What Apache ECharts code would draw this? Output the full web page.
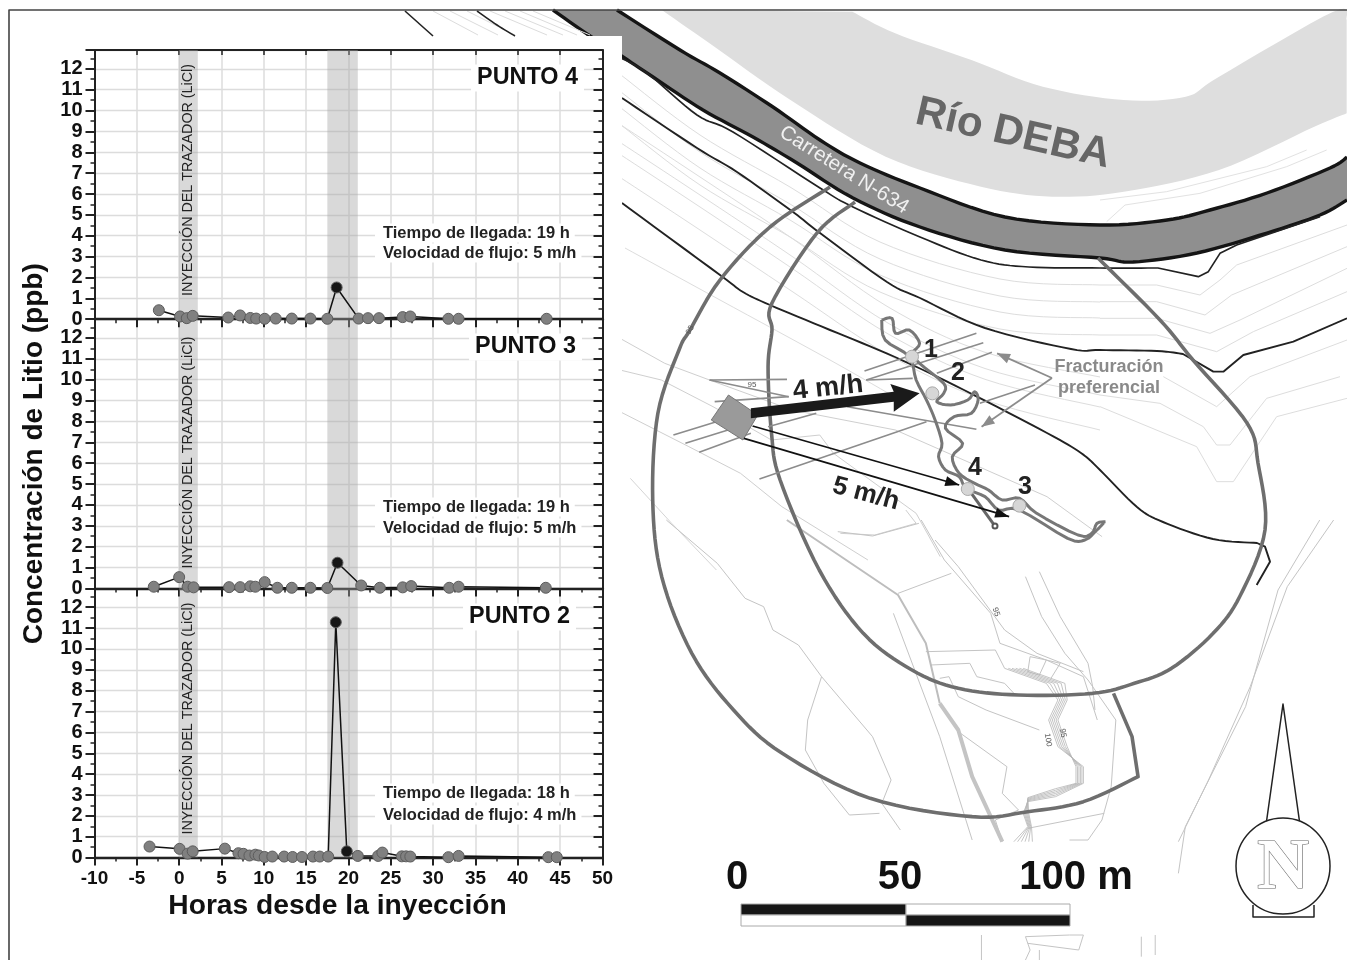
<!DOCTYPE html>
<html><head><meta charset="utf-8">
<style>html,body{margin:0;padding:0;background:#fff}#c{width:1347px;height:960px}</style>
<script src="https://cdn.jsdelivr.net/npm/echarts@6/dist/echarts.min.js"></script>
</head><body><div id="c"></div>
<script>
// ---------- chart values ----------
const hoursP4 = [-2.4,0.1,0.9,1.6,5.8,7.2,8.4,9.1,10.1,11.4,13.3,15.5,17.5,18.6,21.2,22.3,23.6,26.4,27.3,31.8,33,43.4];
const litioP4 = [0.43,0.13,0.05,0.16,0.08,0.18,0.06,0.03,0.02,0.03,0.03,0.03,0.02,1.52,0.03,0.05,0.05,0.1,0.13,0.02,0.02,0.02];
const hoursP3 = [-3,0,1,1.7,5.9,7.2,8.4,9,10.1,11.6,13.3,15.5,17.5,18.7,21.5,23.7,26.4,27.4,31.9,33,43.3];
const litioP3 = [0.08,0.54,0.08,0.05,0.06,0.06,0.1,0.08,0.3,0.03,0.03,0.03,0.02,1.23,0.14,0.03,0.05,0.11,0.03,0.08,0.03];
const hoursP2 = [-3.5,0.05,1,1.6,5.4,7,7.6,8.3,9,9.4,10.1,11,12.4,13.4,14.5,15.8,16.6,17.6,18.5,19.8,21.1,23.5,24,26.3,26.8,27.3,31.8,33,43.6,44.6];
const litioP2 = [0.53,0.42,0.19,0.3,0.43,0.21,0.18,0.1,0.14,0.1,0.03,0.05,0.05,0.03,0.03,0.05,0.05,0.05,11.28,0.3,0.08,0.08,0.24,0.06,0.06,0.05,0.02,0.08,0.02,0.02];
const peakHours = [18.6,18.7,18.5,19.8];
const bandInjection = [0,2.2];
const bandArrival = [17.5,21.1];
const xTickMin = -10, xTickMax = 50, xTickStep = 5;
const yTickMax = 12.9;
const panelNames = ['PUNTO 4','PUNTO 3','PUNTO 2'];
const arrivalText = ['Tiempo de llegada: 19 h','Tiempo de llegada: 19 h','Tiempo de llegada: 18 h'];
const flowText = ['Velocidad de flujo: 5 m/h','Velocidad de flujo: 5 m/h','Velocidad de flujo: 4 m/h'];
const injectionText = 'INYECCIÓN DEL TRAZADOR (LiCl)';
const xTitle = 'Horas desde la inyección';
const yTitle = 'Concentración de Litio (ppb)';

// ---------- layout ----------
const FONT = '"Liberation Sans", Arial, sans-serif';
const GL = 94.5, GW = 508, GT = 50, GH = 269.2;
const series3 = [[hoursP4,litioP4],[hoursP3,litioP3],[hoursP2,litioP2]];
const grid=[],xAxis=[],yAxis=[],series=[];
series3.forEach((s,i)=>{
  grid.push({left:GL,top:GT+i*GH,width:GW,height:GH,containLabel:false});
  const lastPanel = i===2;
  xAxis.push({type:'value',gridIndex:i,min:xTickMin,max:xTickMax,interval:xTickStep,
    axisLine:{onZero:false,lineStyle:{color:'#222',width:2.4}},
    axisTick:{show:true,inside:false,length:8,lineStyle:{color:'#222',width:2}},
    minorTick:{show:true,splitNumber:2,length:4,lineStyle:{color:'#222',width:1.5}},
    splitLine:{show:true,lineStyle:{color:'#dcdcdc',width:1.5}},minorSplitLine:{show:false},
    axisLabel:{show:lastPanel,color:'#111',fontFamily:FONT,fontWeight:'bold',fontSize:19,margin:12}});
  xAxis.push({type:'value',gridIndex:i,position:'top',min:xTickMin,max:xTickMax,interval:xTickStep,
    axisLine:{onZero:false,lineStyle:{color:'#222',width:2}},
    axisTick:{show:true,inside:true,length:5,lineStyle:{color:'#222',width:1.5}},
    axisLabel:{show:false},splitLine:{show:false}});
  yAxis.push({type:'value',gridIndex:i,min:0,max:yTickMax,interval:1,
    axisLine:{onZero:false,show:true,lineStyle:{color:'#222',width:2}},
    axisTick:{show:true,inside:false,length:9,lineStyle:{color:'#222',width:2}},
    minorTick:{show:true,splitNumber:2,length:4,lineStyle:{color:'#222',width:1.5}},
    splitLine:{show:true,lineStyle:{color:'#dcdcdc',width:1.3}},
    axisLabel:{color:'#111',fontFamily:FONT,fontWeight:'bold',fontSize:20,margin:12,
      formatter:v=>Number.isInteger(v)?String(v):''},
    name:i===1?yTitle:'',nameLocation:'middle',nameGap:46,
    nameTextStyle:{color:'#111',fontFamily:FONT,fontWeight:'bold',fontSize:28}});
  yAxis.push({type:'value',gridIndex:i,position:'right',min:0,max:yTickMax,interval:1,
    axisLine:{onZero:false,show:true,lineStyle:{color:'#222',width:2}},
    axisTick:{show:true,inside:true,length:9,lineStyle:{color:'#222',width:2}},
    minorTick:{show:true,splitNumber:2,length:4,lineStyle:{color:'#222',width:1.5}},
    axisLabel:{show:false},splitLine:{show:false}});
  series.push({type:'line',xAxisIndex:i*2,yAxisIndex:i*2,clip:false,silent:true,
    data:s[0].map((h,k)=>[h,s[1][k]]),
    symbol:'circle',symbolSize:11,showAllSymbol:true,z:4,
    lineStyle:{color:'#111',width:1.5},
    itemStyle:{color:p=>peakHours.includes(p.value[0])?'#161616':'#808080',borderColor:'#5c5c5c',borderWidth:1},
    markArea:{silent:true,z:1,itemStyle:{color:'rgba(165,165,165,0.42)'},
      data:[[{xAxis:bandInjection[0]},{xAxis:bandInjection[1]}],[{xAxis:bandArrival[0]},{xAxis:bandArrival[1]}]]}});
});

// ---------- map backdrop (decoration, picture space) ----------
const z4=a=>a.map(p=>[620+p[0]/2.904,300+p[1]/3]);
const z7=a=>a.map(p=>[600+p[0]/2.1,p[1]/3]);
const z8=a=>a.map(p=>[620+p[0]/2.158,520+p[1]/3]);
const zR=a=>a.map(p=>[1100+p[0]/3,150+p[1]/3]);
const cr=(a,n)=>{n=n||8;const o=[];for(let i=0;i<a.length-1;i++){const p0=a[Math.max(i-1,0)],p1=a[i],p2=a[i+1],p3=a[Math.min(i+2,a.length-1)];
  for(let k=0;k<n;k++){const t=k/n,t2=t*t,t3=t2*t;o.push([0,1].map(j=>0.5*(2*p1[j]+(p2[j]-p0[j])*t+(2*p0[j]-5*p1[j]+4*p2[j]-p3[j])*t2+(3*p1[j]-p0[j]-3*p2[j]+p3[j])*t3)));}}
  o.push(a[a.length-1]);return o;};
const g=[];
const D=-1;
const line=(pts,c,w)=>g.push({type:'polyline',z:D,shape:{points:pts},style:{stroke:c,lineWidth:w,fill:null,lineJoin:'round'},silent:true});
const poly=(pts,f,s,w)=>g.push({type:'polygon',z:D,shape:{points:pts},style:{fill:f,stroke:s||null,lineWidth:w||0},silent:true});
const txt=(t,x,y,font,fill,rotDeg,extra)=>g.push({type:'text',z:(extra&&extra.z)||D,x,y,rotation:(rotDeg||0)*Math.PI/180,silent:true,
  style:Object.assign({text:t,font,fill,align:'center',verticalAlign:'middle'},extra&&extra.style||{})});
const arrowHead=(from,to,len,wid,c)=>{const dx=to[0]-from[0],dy=to[1]-from[1],L=Math.hypot(dx,dy),ux=dx/L,uy=dy/L;
  const bx=to[0]-ux*len,by=to[1]-uy*len;poly([to,[bx-uy*wid,by+ux*wid],[bx+uy*wid,by-ux*wid]],c);};

const roadUp=cr([[617,10],[680,50],[720,73],[773,107],[820,140],[860,163],[920,188],[1005,217],[1100,225],[1167,220],[1210,210],[1267,193],[1330,168],[1347,157]]);
const roadLow=cr([[553,10],[590,36],[620,55],[653,77],[703,110],[753,137],[797,163],[853,198],[920,227],[1005,250],[1100,258],[1133,262],[1197,253],[1267,233],[1320,215],[1347,200]]);
const riverLow=cr(z7([[130,30],[230,130],[400,300],[600,470],[800,560],[950,590],[1100,575],[1300,510],[1500,380],[1568,340]]));
const riverUp=cr(z7([[1568,60],[1540,35],[1300,230],[1230,290],[1100,300],[930,260],[780,180],[620,100],[530,35]]));

poly(riverLow.concat(riverUp),'#dedede');
line(zR([[0,150],[200,125],[500,50],[620,0]]),'#e2e2e2',1);
line(zR([[20,215],[75,165],[300,130],[560,50],[680,0]]),'#e2e2e2',1);
// contours between the two upper black lines
const cCol='#dddddd';
[17,34,50,67].forEach((d,i)=>{
  line(cr([[621,58+d],[700,118+d],[790,170+d],[880,225+d],[1000,262+d],[1100,268+d]]),cCol,1);
});
line(zR([[0,405],[170,405],[300,435],[360,390],[410,345],[741,225]]),cCol,1);
line(zR([[0,455],[170,455],[315,495],[395,435],[741,290]]),cCol,1);
line(zR([[0,505],[170,505],[330,550],[420,510],[741,355]]),cCol,1);
line(zR([[0,555],[170,555],[350,605],[460,545],[741,425]]),cCol,1);
line(zR([[190,680],[350,770],[450,680],[741,570]]),cCol,1);
line(zR([[0,735],[180,760],[310,830],[350,885],[390,885],[500,745],[720,680]]),cCol,1);
line(zR([[0,770],[290,890],[350,995],[400,995],[530,800],[741,745]]),cCol,1);
// contours below line B
[27,45,57,80].forEach(d=>{
  line(cr([[621,98+d],[697,148+d],[793,212+d],[887,282+d*0.9],[985,328+d*0.9],[1100,350+d]]),cCol,1);
});
line(cr([[625,248],[720,300],[830,360],[900,400]]),cCol,1);
line(z4([[0,115],[130,190],[260,240],[500,330],[800,390],[1240,590],[1400,710]]),'#cfcfcf',1);
line(z4([[0,210],[120,240],[270,320],[440,420],[580,405],[620,460],[860,640],[930,770]]),'#cfcfcf',1);
line(z4([[0,335],[200,440],[350,520],[470,620],[720,780]]),'#cfcfcf',1);
line(z4([[30,535],[150,670],[280,810]]),'#d5d5d5',1);
line(z4([[640,700],[740,705],[860,670],[830,630]]),'#cfcfcf',1);
// southern paths
const south=[
 [[100,0],[210,130],[270,235],[310,260],[330,330],[385,375],[435,470],[545,650],[585,780],[565,850],[605,930]],
 [[435,470],[405,600],[400,690],[440,790],[495,885],[560,880]],
 [[650,0],[700,120],[800,280],[820,370],[920,420],[1000,470],[1030,600]],
 [[680,60],[730,140],[830,330],[900,400],[1000,455]],
 [[875,170],[910,290],[960,400],[1010,480],[1070,600],[1060,800],[1040,900],[1010,960],[970,960]],
 [[905,155],[950,290],[1010,430],[1020,500],[1025,570]],
 [[660,395],[810,390],[830,445]],[[670,435],[755,430],[770,470],[830,490],[850,520]],
 [[690,475],[710,470],[730,530],[790,570],[905,630]],
 [[600,220],[715,160]],[[470,35],[545,48],[645,10]],
 [[590,280],[690,650],[760,960]],
 [[735,640],[835,740],[825,820],[860,870],[810,900],[825,965]],
 [[880,925],[1045,880]],[[885,410],[920,420],[905,465],[880,455],[885,410]],[[920,420],[950,430],[930,475]],
 [[1540,0],[1440,200],[1360,500],[1270,780],[1205,965]],
 [[1510,0],[1420,210],[1350,560],[1220,920],[1205,1060]],
 [[780,1245],[780,1320]],[[875,1250],[970,1245],[1000,1245]],[[880,1270],[990,1290],[1000,1245]],
 [[875,1250],[885,1290],[875,1320]],[[905,1290],[905,1320]],[[1125,1250],[1125,1310]],[[1155,1245],[1155,1305]]
];
south.forEach(p=>line(z8(p),'#c4c4c4',1));
[0,8,16,24,32,40].forEach(d=>{
  line(z8([[830+d,445],[920+d,490],[945+d*.5,540],[925+d*.5,600],[945+d*.5,680],[1000-d*.4,740],[1000-d*.4,790],[940,830-d*.6],[880,845-d*.3],[870+d*.3,880],[880+d*.2,920],[850+d,965]]),'#b5b5b5',0.8);
});
line(z8([[360,0],[600,225],[660,370],[690,550]]),'#bdbdbd',2);
line(z8([[690,550],[730,630],[760,770],[825,965]]),'#c4c4c4',4);
// road
poly(roadUp.concat(roadLow.slice().reverse()),'#8f8f8f');
line(roadUp,'#151515',3.4);
line(roadLow,'#151515',3.4);
// black contours
line(cr([[621,58],[647,73],[697,115],[733,132],[820,188],[853,207],[920,237],[981,260],[1029,267],[1100,268],[1158,268]]).concat(zR([[295,380],[325,365],[360,310],[410,285],[660,200]])),'#222',1.7);
line(cr([[622,98],[697,148],[737,172],[793,212],[820,233],[887,282],[920,298],[985,328],[1071,349],[1100,350],[1157,351],[1183,354]]).concat(zR([[340,665],[370,665],[430,615],[580,575],[741,505]])),'#222',1.9);
line(cr([[622,203],[720,275],[743,292],[770,305],[830,330],[895,357],[964,390],[1047,433],[1081,453],[1100,470],[1137,507],[1163,522],[1213,539],[1257,543]]).concat(zR([[495,1190],[510,1235],[470,1305]])),'#222',1.9);
// influence circles
const outerA=cr([[830,187],[770,227],[720,280],[690,330],[679,350]].concat(z4([[110,340],[95,600]]),z8([[90,170],[155,400],[245,570],[350,700],[540,835],[760,890],[880,875],[1000,845],[1118,770]])));
const outerB=z8([[1118,770],[1105,650],[1065,520]]);
const inner=cr([[855,202],[817,233],[772,303],[772,330]].concat(z4([[430,200],[440,400],[465,540]]),z8([[430,150],[525,340],[630,450],[730,505],[860,525],[1020,520],[1110,490],[1190,445],[1280,340]]),[[1240,596],[1265,530],[1258,463],[1247,423],[1193,360],[1160,320],[1098,258]]));
line(outerA.concat(outerB),'#6e6e6e',3.6);
line(inner,'#6e6e6e',3.6);
// fractures
[[[710,213],[1035,100]],[[715,240],[1055,128]],[[920,220],[1080,157]],[[715,240],[850,235]],[[1045,310],[1205,255]],
 [[260,240],[485,238]],[[260,240],[490,290]],[[275,305],[490,290]],[[660,320],[1035,388]],
 [[155,405],[280,365]],[[190,430],[330,385]],[[230,457],[380,400]],[[430,380],[570,340]],[[405,537],[890,365]]
].forEach(p=>line(z4(p),'#8c8c8c',1.6));
// cave
line(cr(z4([[760,60],[790,55],[800,100],[840,90],[870,130],[850,160],[870,190],[940,250],[940,280],[920,305],[960,315],[1010,300],[1030,275],[1040,300],[1020,340],[970,350],[945,385],[995,430],[965,470],[985,520],[1030,550],[1070,570],[1110,600],[1160,595],[1210,640],[1330,705],[1370,700],[1385,670],[1410,665]]),4),'#777',3);
line(cr(z4([[760,60],[770,120],[840,170],[860,240],[890,300],[915,360],[935,430],[925,470],[945,510],[985,530],[1005,565],[1060,590],[1100,630],[1160,630],[1300,715],[1350,720],[1385,690],[1405,668]]),4),'#777',3);
line(z4([[1010,565],[1090,680]]),'#666',3);
g.push({type:'circle',z:D,shape:{cx:995,cy:526,r:2.5},style:{fill:'#fff',stroke:'#555',lineWidth:2},silent:true});
// white mask for the chart panel
g.push({type:'rect',z:D,shape:{x:10,y:36,width:612,height:924},style:{fill:'#fff'},silent:true});
// lines above the panel
[[433,478],[450,498],[467,515],[490,547],[505,563],[520,577],[533,590]].forEach(a=>line([[a[0],11],[a[1],35]],'#dcdcdc',1));
line([[405,11],[433,36]],'#222',1.6);
line(cr([[477,11],[497,25],[515,36]]),'#222',1.6);
// source square and arrows
poly(z4([[315,285],[400,345],[357,420],[265,360]]),'#9a9a9a','#777',1);
poly(z4([[380,325],[795,275],[785,252],[870,280],[795,335],[795,305],[380,355]]),'#1a1a1a');
const a1=z4([[385,378],[985,555]]),a2=z4([[360,415],[1130,650]]);
line(a1,'#111',1.7);arrowHead(a1[0],a1[1],14,5,'#111');
line(a2,'#111',1.7);arrowHead(a2[0],a2[1],14,5,'#111');
const f0=[1052,378],f1=z4([[1095,160]])[0],f2=z4([[1050,380]])[0];
line([f0,f1],'#8c8c8c',1.8);arrowHead(f0,f1,13,5,'#8c8c8c');
line([f0,f2],'#8c8c8c',1.8);arrowHead(f0,f2,13,5,'#8c8c8c');
// sampling points
[[848,170],[907,280],[1010,567],[1160,617]].forEach(p=>{const q=z4([p])[0];
  g.push({type:'circle',z:D,shape:{cx:q[0],cy:q[1],r:6.5},style:{fill:'#d6d6d6',stroke:'#aaa',lineWidth:1},silent:true});});
const B=s=>'bold '+s+'px '+FONT;
txt('1',931,350,B(25),'#222');txt('2',958,373,B(25),'#222');txt('4',975,468,B(25),'#222');txt('3',1025,487,B(25),'#222');
txt('4 m/h',828,388,B(27),'#222',6);
txt('5 m/h',866,494,B(26),'#222',-15);
txt('Fracturación',1109,367,B(18),'#8a8a8a');
txt('preferencial',1109,388,B(18),'#8a8a8a');
txt('Río DEBA',1013,134,B(42),'#666',-13);
txt('Carretera N-634',844,170,'20.5px '+FONT,'#f0f0f0',-32);
['95,690,330,60','95,752,385,0','95,996,612,-70','100,1048,740,-80','95,1063,733,-80'].forEach(s=>{const a=s.split(',');
  txt(a[0],+a[1],+a[2],'8px '+FONT,'#555',+a[3]);});
// scale bar
txt('0',737,878,B(40),'#111');txt('50',900,878,B(40),'#111');txt('100 m',1076,878,B(40),'#111');
[[741,904,165,11,'#161616'],[906,904,164,11,'#fff'],[741,915,165,11,'#fff'],[906,915,164,11,'#161616']].forEach(r=>
  g.push({type:'rect',z:D,shape:{x:r[0],y:r[1],width:r[2],height:r[3]},style:{fill:r[4],stroke:'#aaa',lineWidth:1},silent:true}));
// north arrow
line([[1266,825],[1283,704],[1300,825]],'#222',1.5);
line([[1253,905],[1253,917],[1314,917],[1314,905]],'#222',1.5);
g.push({type:'ellipse',z:D,shape:{cx:1283,cy:866,rx:47,ry:48},style:{fill:'#fff',stroke:'#222',lineWidth:1.5},silent:true});
txt('N',1283,869,'bold 72px "Liberation Serif", serif','#fff',0,{style:{stroke:'#666',lineWidth:1.2}});
// frame
line([[9,960],[9,10],[1347,10]],'#444',1.6);
// panel texts
[180,452.5,718.5].forEach(y=>g.push({type:'text',z:6,x:188,y,rotation:Math.PI/2,silent:true,
  style:{text:injectionText,font:'14.3px '+FONT,fill:'#222',align:'center',verticalAlign:'middle'}}));
const punto=[[584,78],[582,347],[576,617]],tY=[[233,253],[507,528],[793,815]];
panelNames.forEach((n,i)=>{
  g.push({type:'text',z:6,x:punto[i][0],y:punto[i][1],silent:true,style:{text:n,font:B(23.4),fill:'#111',align:'right',verticalAlign:'middle',backgroundColor:'#fff',padding:[2,6,2,6]}});
  g.push({type:'text',z:6,x:375,y:tY[i][0],silent:true,style:{text:arrivalText[i],font:B(16.5),fill:'#222',align:'left',verticalAlign:'middle',backgroundColor:'#fff',padding:[1,5,1,8]}});
  g.push({type:'text',z:6,x:375,y:tY[i][1],silent:true,style:{text:flowText[i],font:B(16.5),fill:'#222',align:'left',verticalAlign:'middle',backgroundColor:'#fff',padding:[1,5,1,8]}});
});
g.push({type:'text',z:6,x:337.5,y:906,silent:true,style:{text:xTitle,font:B(28.2),fill:'#111',align:'center',verticalAlign:'middle'}});

const chart=echarts.init(document.getElementById('c'),null,{renderer:'canvas'});
chart.setOption({animation:false,backgroundColor:'#fff',grid,xAxis,yAxis,series,graphic:{elements:g}});
</script></body></html>
